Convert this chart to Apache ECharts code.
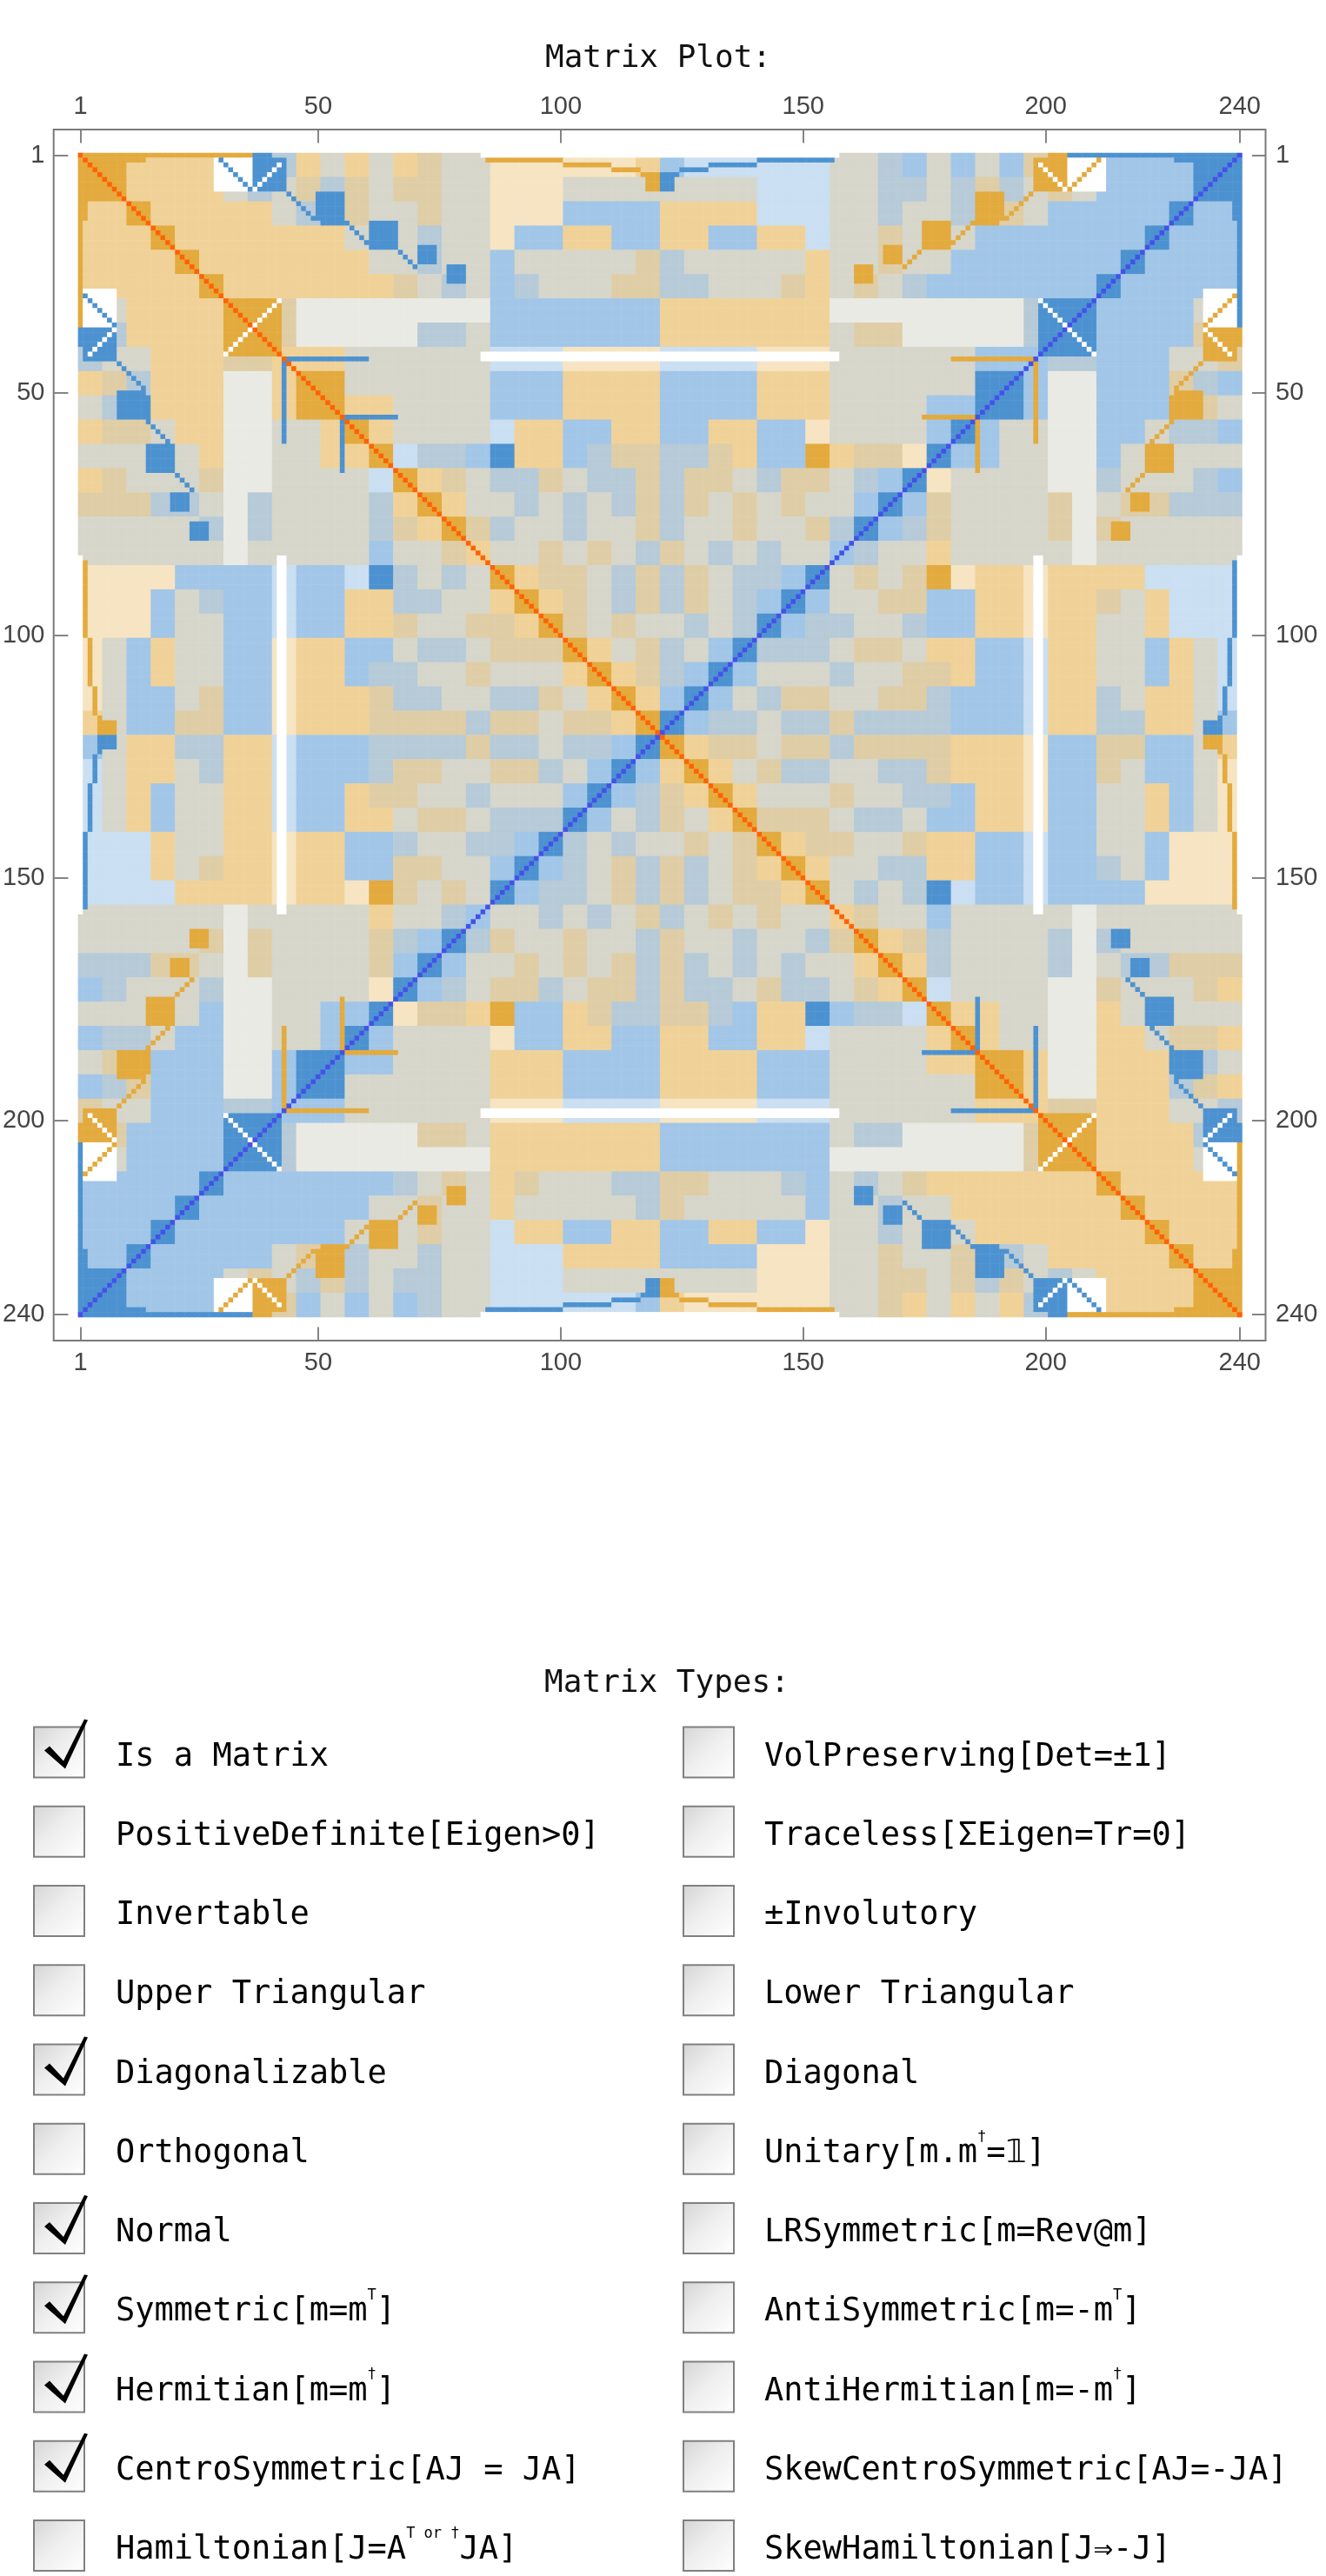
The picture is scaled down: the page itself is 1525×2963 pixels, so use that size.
<!DOCTYPE html>
<html><head><meta charset="utf-8">
<script src="https://cdn.jsdelivr.net/npm/echarts@6/dist/echarts.min.js"></script>
<style>html,body{margin:0;padding:0;background:#fff}#c{width:1525px;height:2963px}</style>
</head><body><div id="c"></div>
<script>
// ---------------- data ----------------
const tickLabels = [1, 50, 100, 150, 200, 240];
// Top-left 120x120 quadrant, read in 5x5-cell blocks (upper triangle, row R lists blocks C=R..23).
// codes: . white, a/o/O orange light/half/solid, c/b/B blue light/half/solid,
// m orange+blue lattice, n sparse orange+blue lattice, p orange-leaning lattice, q blue-leaning lattice
const quadrantBlocks = [
  "OOoooomBqomomopmmaaaaaao",
  "Ooooomqmpqpmppmmaaammmm",
  "OooooomqBpmmpmmaaabbbb",
  "OooooooomBmqmmabboobb",
  "Oooooooommqmmbmmmmmp",
  "Oooooooopmqmbqmmmpp",
  "OOpnnnnnnnnbbbbbbb",
  "Opnnnnnqqmbbbbbbb",
  "ooommmmmmcccaaaa",
  "OOmmmmmmbbboooo",
  "Ooommmmbbboooo",
  "Oommmmcoobboo",
  "OcqqbBoobqpp",
  "Oopmqqpmqqp",
  "Oommqmqmqp",
  "Opqmmqmmp",
  "ommpmpmq",
  "Ooppmqp",
  "Oopmqp",
  "Opmpm",
  "Oomp",
  "Oop",
  "Oo",
  "O"
];
// solid / white features read at cell precision in the quadrant: [row1,row2,col1,col2,code]
const solidRects = [
  [1, 8, 1, 8, 'O'],
  [1, 1, 1, 36, 'O'],
  [2, 2, 1, 14, 'O'],
  [2, 8, 29, 36, '.'],
  [2, 8, 37, 43, 'B'],
  [9, 14, 50, 55, 'B'],
  [15, 20, 61, 66, 'B'],
  [20, 23, 71, 74, 'B'],
  [24, 27, 77, 80, 'B'],
  [31, 42, 31, 42, 'O'],
  [43, 43, 44, 60, 'B'],
  [55, 55, 56, 66, 'B'],
  [61, 65, 86, 90, 'B'],
  [1, 1, 84, 120, '.'],
  [2, 2, 85, 100, 'O'],
  [3, 3, 101, 110, 'O'],
  [4, 4, 111, 116, 'O'],
  [5, 5, 117, 120, 'O'],
  [6, 8, 118, 120, 'O'],
  [42, 43, 84, 120, '.']
];
// diagonal runs read in the quadrant: [row, col, length, direction(+1 down-right, -1 down-left), code]
const diagRuns = [
  [2, 30, 7, 1, 'B'],
  [9, 44, 6, 1, 'B'],
  [15, 56, 6, 1, 'B'],
  [20, 66, 5, 1, 'B'],
  [31, 42, 12, -1, '.'],
  [3, 42, 6, -1, '.']
];
// main diagonal of the quadrant (red = 2 everywhere)
const diagonalCodes = [
  "RRRRRRRRRR","RRRRRRRRRR","RRRRRRRRRR","RRRRRRRRRR","RRRRRRRRRR","RRRRRRRRRR",
  "RRRRRRRRRR","RRRRRRRRRR","RRRRRRRRRR","RRRRRRRRRR","RRRRRRRRRR","RRRRRRRRRR"
].join('');

const leftLabels = [
  [['t','Is a Matrix']],
  [['t','PositiveDefinite'],['k','['],['t','Eigen>0'],['k',']']],
  [['t','Invertable']],
  [['t','Upper Triangular']],
  [['t','Diagonalizable']],
  [['t','Orthogonal']],
  [['t','Normal']],
  [['t','Symmetric'],['k','['],['t','m=m'],['s','T'],['k',']']],
  [['t','Hermitian'],['k','['],['t','m=m'],['s','†'],['k',']']],
  [['t','CentroSymmetric'],['k','['],['t','AJ = JA'],['k',']']],
  [['t','Hamiltonian'],['k','['],['t','J=A'],['s','T or †'],['t','JA'],['k',']']]
];
const leftChecked = [true, false, false, false, true, false, true, true, true, true, false];
const rightLabels = [
  [['t','VolPreserving'],['k','['],['t','Det=±1'],['k',']']],
  [['t','Traceless'],['k','['],['t','ΣEigen=Tr=0'],['k',']']],
  [['t','±Involutory']],
  [['t','Lower Triangular']],
  [['t','Diagonal']],
  [['t','Unitary'],['k','['],['t','m.m'],['s','†'],['t','=𝟙'],['k',']']],
  [['t','LRSymmetric'],['k','['],['t','m=Rev@m'],['k',']']],
  [['t','AntiSymmetric'],['k','['],['t','m=-m'],['s','T'],['k',']']],
  [['t','AntiHermitian'],['k','['],['t','m=-m'],['s','†'],['k',']']],
  [['t','SkewCentroSymmetric'],['k','['],['t','AJ=-JA'],['k',']']],
  [['t','SkewHamiltonian'],['k','['],['t','J⇒-J'],['k',']']]
];
const rightChecked = [false, false, false, false, false, false, false, false, false, false, false];

// ---------------- styles ----------------
const CODE_ORDER = ['.', 'a', 'o', 'O', 'R', 'c', 'b', 'B', 'D', 'm', 'n', 'p', 'q'];
const CODE_COLOR = {
  '.': '#ffffff', a: 'rgb(246,228,194)', o: 'rgb(240,210,152)', O: 'rgb(227,170,62)', R: 'rgb(255,98,0)',
  c: 'rgb(202,223,242)', b: 'rgb(162,198,231)', B: 'rgb(77,146,208)', D: 'rgb(66,82,232)',
  m: 'rgb(214,214,203)', n: 'rgb(234,234,228)', p: 'rgb(223,205,166)', q: 'rgb(182,202,216)'
};
const FLIP = { '.': '.', a: 'c', o: 'b', O: 'B', R: 'D', c: 'a', b: 'o', B: 'O', D: 'R', m: 'm', n: 'n', p: 'q', q: 'p' };

// ---------------- build matrix ----------------
const N = 240, H = 120, BS = 5;
const Q = [];
for (let r = 0; r < H; r++) Q.push(new Array(H).fill('.'));
for (let r = 0; r < H; r++) {
  for (let c = r; c < H; c++) {
    const R = Math.floor(r / BS), C = Math.floor(c / BS);
    const row = quadrantBlocks[R] || '';
    const code = row[C - R] || '.';
    Q[r][c] = code; Q[c][r] = code;
  }
}
function setQ(r, c, code) {
  if (r < 1 || c < 1 || r > H || c > H) return;
  Q[r - 1][c - 1] = code; Q[c - 1][r - 1] = code;
}
solidRects.forEach(([r1, r2, c1, c2, code]) => {
  for (let r = r1; r <= r2; r++) for (let c = c1; c <= c2; c++) setQ(r, c, code);
});
diagRuns.forEach(([r, c, len, dir, code]) => {
  for (let k = 0; k < len; k++) setQ(r + k, c + dir * k, code);
});
for (let i = 0; i < H; i++) Q[i][i] = diagonalCodes[i] || 'R';

const data = [];
for (let i = 0; i < N; i++) {
  for (let j = 0; j < N; j++) {
    const qi = i < H ? i : N - 1 - i;
    const qj = j < H ? j : N - 1 - j;
    let code = Q[qi][qj];
    if ((i >= H) !== (j >= H)) code = FLIP[code];
    data.push([j, i, CODE_ORDER.indexOf(code)]);
  }
}

const cats = [];
for (let k = 1; k <= N; k++) cats.push(String(k));
const tickSet = new Set(tickLabels.map(v => v - 1));
const showTick = (idx) => tickSet.has(idx);

// ---------------- layout ----------------
const G = { left: 89.3, top: 176, width: 1339.2, height: 1339 };
const OFF = 27.5;
const labelFont = { fontFamily: 'Liberation Sans, Arial, sans-serif', fontSize: 29, color: '#444' };
function axisCommon(pos) {
  return {
    type: 'category', data: cats, position: pos, offset: OFF,
    axisLine: { show: false },
    axisTick: { show: true, inside: true, length: 16, alignWithLabel: true, interval: showTick, lineStyle: { color: '#666', width: 1.6 } },
    axisLabel: Object.assign({ show: true, interval: showTick, margin: 11 }, labelFont),
    splitLine: { show: false }
  };
}
const xTop = axisCommon('top'); const xBottom = axisCommon('bottom');
const yLeft = Object.assign(axisCommon('left'), { inverse: true });
const yRight = Object.assign(axisCommon('right'), { inverse: true });

const monoRich = {
  t: { fontFamily: 'DejaVu Sans Mono, monospace', fontSize: 37, color: '#111', lineHeight: 46, verticalAlign: 'bottom' },
  k: { fontFamily: 'DejaVu Sans Mono, monospace', fontSize: 37, color: '#555', fontWeight: 'lighter', lineHeight: 46, verticalAlign: 'bottom' },
  s: { fontFamily: 'DejaVu Sans Mono, monospace', fontSize: 17, color: '#111', lineHeight: 46, verticalAlign: 'top' }
};
function richText(segs) { return segs.map(([st, tx]) => '{' + st + '|' + tx + '}').join(''); }

const graphics = [];
graphics.push({ type: 'rect', silent: true, shape: { x: 61.7, y: 149, width: 1393.8, height: 1393 },
  style: { fill: 'none', stroke: '#7a7a7a', lineWidth: 2 }, z: 10 });
graphics.push({ type: 'text', silent: true, x: 757, y: 68, style: { text: 'Matrix Plot:', fontFamily: 'DejaVu Sans Mono, monospace',
  fontSize: 36, fill: '#111', align: 'center', verticalAlign: 'middle' } });
graphics.push({ type: 'text', silent: true, x: 767, y: 1937, style: { text: 'Matrix Types:', fontFamily: 'DejaVu Sans Mono, monospace',
  fontSize: 36, fill: '#111', align: 'center', verticalAlign: 'middle' } });

function addRow(bx, lx, cy, segs, checked) {
  const by = cy - 29;
  graphics.push({ type: 'rect', silent: true, shape: { x: bx, y: by, width: 58, height: 58 },
    style: { fill: new echarts.graphic.LinearGradient(0, 0, 1, 1, [
      { offset: 0, color: '#d4d4d4' }, { offset: 0.45, color: '#eeeeee' }, { offset: 1, color: '#ffffff' }]),
      stroke: '#808080', lineWidth: 2 } });
  if (checked) {
    const pts = [[12, 27], [18, 22], [34, 39], [58, -9], [62, -8], [36, 48]].map(([x, y]) => [bx + x, by + y]);
    graphics.push({ type: 'polygon', silent: true, shape: { points: pts }, style: { fill: '#000' }, z: 20 });
  }
  graphics.push({ type: 'text', silent: true, x: lx, y: cy + 1, style: { text: richText(segs), rich: monoRich,
    align: 'left', verticalAlign: 'middle' } });
}
for (let k = 0; k < leftLabels.length; k++) {
  const cy = 2015.5 + 91.25 * k;
  addRow(39, 133, cy, leftLabels[k], leftChecked[k]);
  addRow(786, 879, cy, rightLabels[k], rightChecked[k]);
}

const chart = echarts.init(document.getElementById('c'), null, { renderer: 'canvas', width: 1525, height: 2963 });
chart.setOption({
  animation: false,
  backgroundColor: '#ffffff',
  grid: G,
  xAxis: [xBottom, xTop],
  yAxis: [yLeft, yRight],
  visualMap: {
    type: 'piecewise', show: false, dimension: 2, seriesIndex: 0,
    pieces: CODE_ORDER.map((c, k) => ({ value: k, color: CODE_COLOR[c] }))
  },
  series: [{
    type: 'heatmap', xAxisIndex: 0, yAxisIndex: 0, data: data,
    progressive: 0, emphasis: { disabled: true }, itemStyle: { borderWidth: 0 }
  }],
  graphic: graphics
});
</script></body></html>
